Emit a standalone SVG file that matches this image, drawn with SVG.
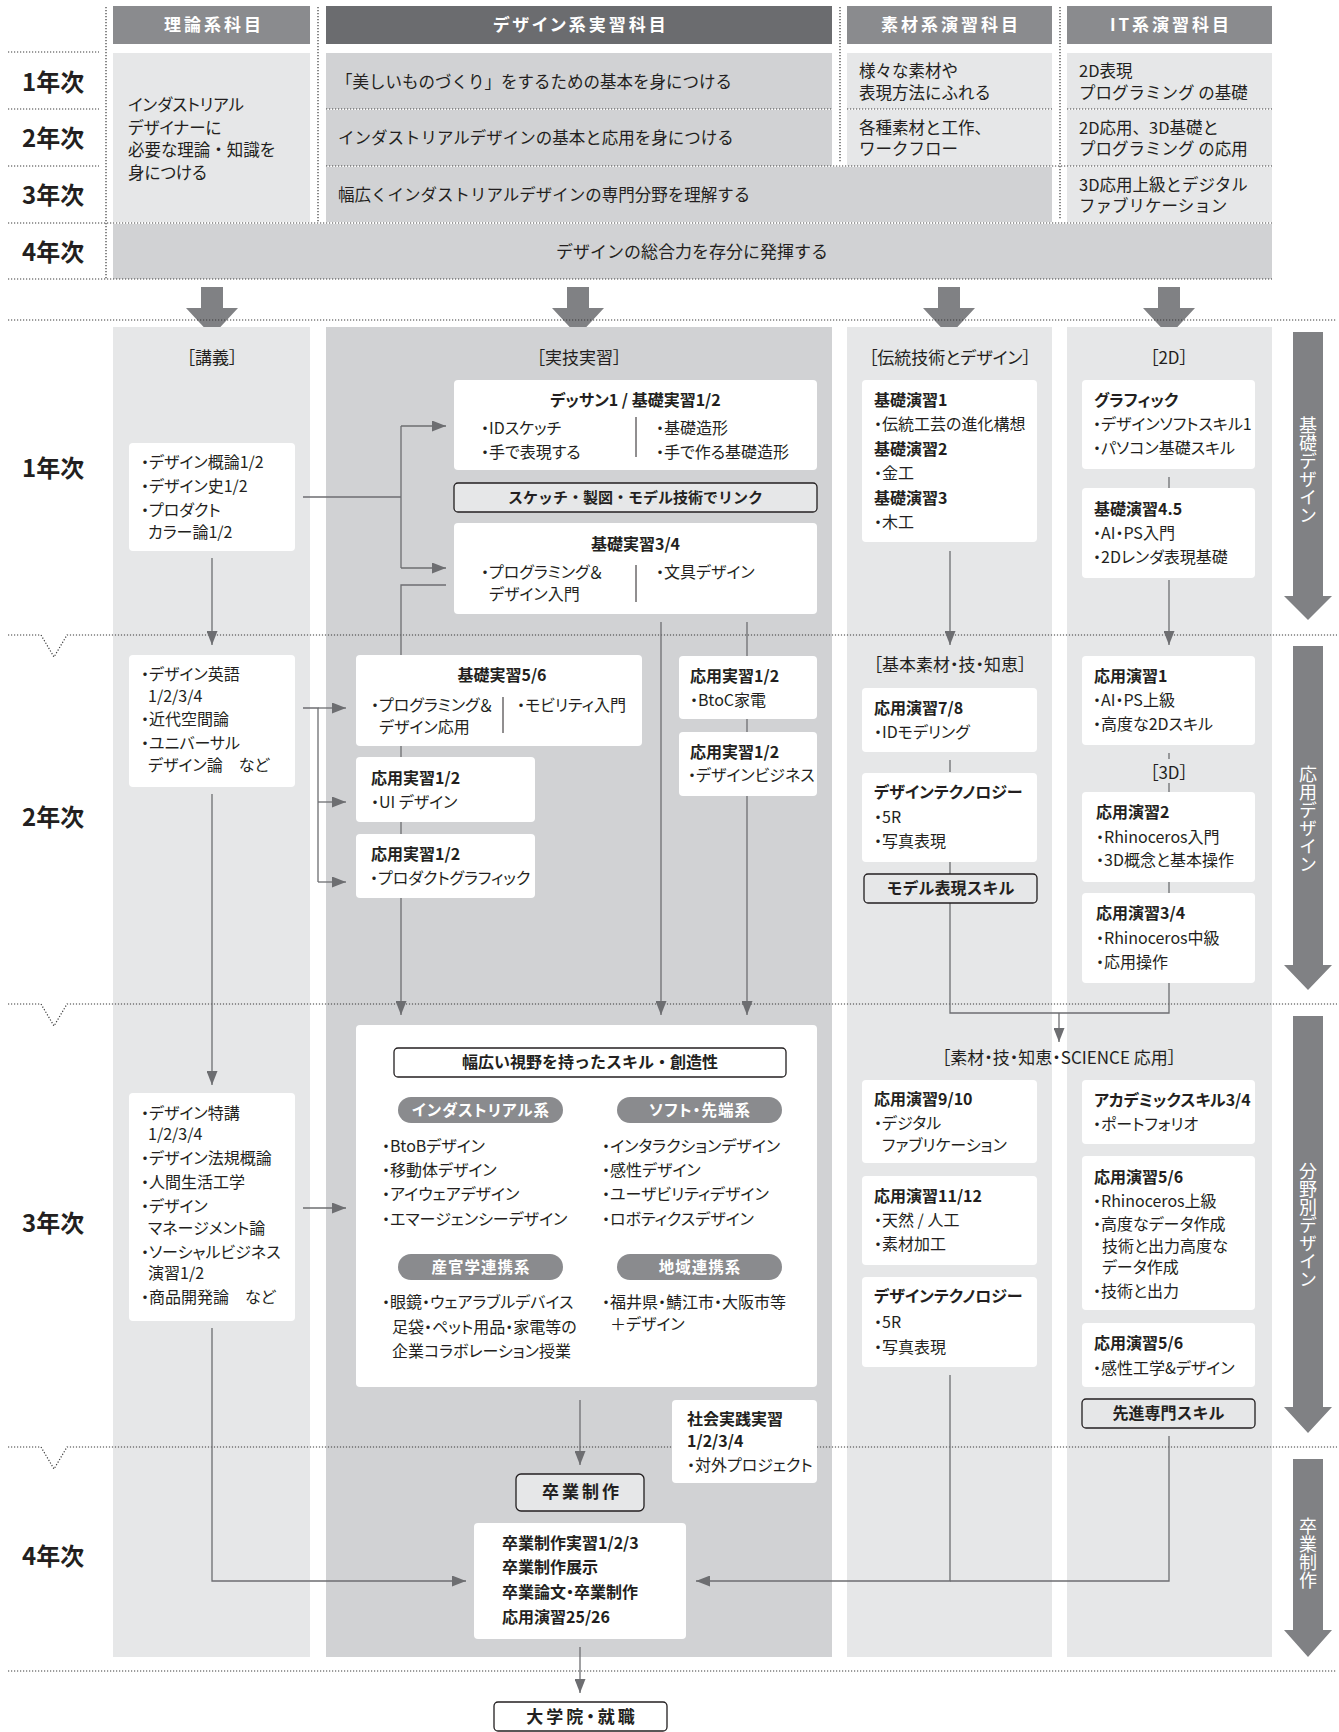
<svg xmlns="http://www.w3.org/2000/svg" width="1339" height="1732" viewBox="0 0 1339 1732">
<style>
.t{font-family:"Noto Sans CJK JP","Noto Sans",sans-serif;font-size:16px;fill:#231f20;font-feature-settings:"palt";}
.np{font-feature-settings:normal;}
.b{font-weight:700;}
.h{font-weight:700;font-size:16px;}
.c{text-anchor:middle;}
.yr{font-size:24px;font-weight:700;font-feature-settings:normal;}
.hd{font-size:17px;font-weight:700;fill:#fff;letter-spacing:3px;}
.tp{font-size:16.5px;font-feature-settings:normal;}
.br{font-size:17px;}
.pl{font-size:15.5px;font-weight:700;fill:#fff;letter-spacing:1px;}
.vt{font-size:18px;fill:#fff;writing-mode:vertical-rl;text-anchor:middle;}
.lt{fill:#e6e7e8;}
.md{fill:#d1d2d4;}
.bx{fill:#fff;}
.kb{fill:#e6e7e8;stroke:#231f20;stroke-width:1.3;}
.wb{fill:#fff;stroke:#231f20;stroke-width:1.3;}
.dot{fill:none;stroke:#3a3a3a;stroke-width:1.2;stroke-dasharray:1.2 1.8;}
.cn{fill:none;stroke:#6d6e71;stroke-width:1.3;}
.dv{fill:none;stroke:#231f20;stroke-width:1;}
.ca{fill:none;stroke:#6d6e71;stroke-width:1.3;marker-end:url(#ah);}
.ar{fill:#808184;}
.pill{fill:#8a8b8e;}
</style>
<defs>
<marker id="ah" viewBox="0 0 14 11" refX="14" refY="5.5" markerWidth="14" markerHeight="11" markerUnits="userSpaceOnUse" orient="auto">
<path d="M0,0 L14,5.5 L0,11 z" fill="#6d6e71"/>
</marker>
</defs>

<!-- ===== TOP TABLE ===== -->
<g id="top-table">
<rect x="113" y="6" width="197" height="38" fill="#8a8b8e"/>
<rect x="326" y="6" width="506" height="38" fill="#6b6c6f"/>
<rect x="847" y="6" width="205" height="38" fill="#8a8b8e"/>
<rect x="1067" y="6" width="205" height="38" fill="#8a8b8e"/>
<text class="t hd c" x="214" y="31">理論系科目</text>
<text class="t hd c" x="581" y="31">デザイン系実習科目</text>
<text class="t hd c" x="951" y="31">素材系演習科目</text>
<text class="t hd c" x="1171" y="31">IT系演習科目</text>

<rect class="lt" x="113" y="53" width="197" height="169"/>
<rect class="md" x="326" y="53" width="506" height="56"/>
<rect class="md" x="326" y="110" width="506" height="56"/>
<rect class="lt" x="847" y="53" width="205" height="56"/>
<rect class="lt" x="847" y="110" width="205" height="56"/>
<rect class="md" x="326" y="167" width="726" height="55"/>
<rect class="lt" x="1067" y="53" width="205" height="56"/>
<rect class="lt" x="1067" y="110" width="205" height="56"/>
<rect class="lt" x="1067" y="167" width="205" height="55"/>
<rect class="md" x="113" y="224" width="1159" height="55"/>

<text class="t yr" x="22" y="91">1年次</text>
<text class="t yr" x="22" y="147">2年次</text>
<text class="t yr" x="22" y="204">3年次</text>
<text class="t yr" x="22" y="261">4年次</text>

<text class="t" style="font-size:16.5px" x="128" y="111">インダストリアル</text>
<text class="t" style="font-size:16.5px" x="128" y="134">デザイナーに</text>
<text class="t" style="font-size:16.5px" x="128" y="156">必要な理論<tspan class="np">・</tspan>知識を</text>
<text class="t" style="font-size:16.5px" x="128" y="179">身につける</text>

<text class="t tp" x="336" y="88">「美しいものづくり」をするための基本を身につける</text>
<text class="t tp" x="338" y="144">インダストリアルデザインの基本と応用を身につける</text>
<text class="t tp" x="338" y="201">幅広くインダストリアルデザインの専門分野を理解する</text>

<text class="t tp" x="859" y="77">様々な素材や</text>
<text class="t tp" x="859" y="99">表現方法にふれる</text>
<text class="t tp" x="859" y="134">各種素材と工作、</text>
<text class="t tp" x="859" y="155">ワークフロー</text>

<text class="t tp" x="1079" y="77">2D表現</text>
<text class="t tp" x="1079" y="99">プログラミング の基礎</text>
<text class="t tp" x="1079" y="134">2D応用、3D基礎と</text>
<text class="t tp" x="1079" y="155">プログラミング の応用</text>
<text class="t tp" x="1079" y="191">3D応用上級とデジタル</text>
<text class="t tp" x="1079" y="212">ファブリケーション</text>

<text class="t tp c" style="font-size:17px" x="692" y="258">デザインの総合力を存分に発揮する</text>

<path class="dot" d="M106,7 V279 M318,7 V222 M840,7 V163 M1060,7 V220"/>
<path class="dot" d="M8,52 H99 M8,109 H99 M326,109 H832 M847,109 H1052 M1067,109 H1272 M8,166 H99 M326,166 H1272 M8,223 H1272 M8,279 H1272"/>

<path class="ar" d="M201,287 H223 V308 H238 L212,336 L186,308 H201 Z"/>
<path class="ar" d="M567,287 H589 V308 H604 L578,336 L552,308 H567 Z"/>
<path class="ar" d="M938,287 H960 V308 H975 L949,336 L923,308 H938 Z"/>
<path class="ar" d="M1158,287 H1180 V308 H1195 L1169,336 L1143,308 H1158 Z"/>
</g>

<!-- ===== LOWER BACKGROUND ===== -->
<g id="lower-columns">
<rect class="lt" x="113" y="327" width="197" height="1330"/>
<rect class="md" x="326" y="327" width="506" height="1330"/>
<rect class="lt" x="847" y="327" width="205" height="1330"/>
<rect class="lt" x="1067" y="327" width="205" height="1330"/>
</g>

<g id="year-lines">
<path class="dot" d="M8,320 H1337"/>
<path class="dot" d="M8,635 H41 L54,657 L67,635 H1337"/>
<path class="dot" d="M8,1004 H41 L54,1026 L67,1004 H1337"/>
<path class="dot" d="M8,1447 H41 L54,1469 L67,1447 H1337"/>
<path class="dot" d="M8,1671 H1337"/>
<text class="t yr" x="22" y="477">1年次</text>
<text class="t yr" x="22" y="826">2年次</text>
<text class="t yr" x="22" y="1232">3年次</text>
<text class="t yr" x="22" y="1565">4年次</text>
</g>

<g id="phase-arrows">
<path class="ar" d="M1293,332 H1323 V596 H1332 L1308,620 L1284,596 H1293 Z"/>
<text class="t vt" x="1308" y="470">基礎デザイン</text>
<path class="ar" d="M1293,646 H1323 V965 H1332 L1308,990 L1284,965 H1293 Z"/>
<text class="t vt" x="1308" y="819">応用デザイン</text>
<path class="ar" d="M1293,1016 H1323 V1407 H1332 L1308,1433 L1284,1407 H1293 Z"/>
<text class="t vt" x="1308" y="1225">分野別デザイン</text>
<path class="ar" d="M1293,1459 H1323 V1630 H1332 L1308,1657 L1284,1630 H1293 Z"/>
<text class="t vt" x="1308" y="1553">卒業制作</text>
</g>

<!-- ===== CONNECTORS ===== -->
<g id="connectors">
<path class="ca" d="M212,558 V645"/>
<path class="ca" d="M212,794 V1085"/>
<path class="ca" d="M212,1328 V1581 H466"/>
<path class="cn" d="M303,497 H401 M401,426 V568"/>
<path class="ca" d="M401,426 H446"/>
<path class="ca" d="M401,568 H446"/>
<path class="ca" d="M446,585 H401 V1015"/>
<path class="cn" d="M303,708 H318 V882"/>
<path class="ca" d="M318,708 H346"/>
<path class="ca" d="M318,802 H346"/>
<path class="ca" d="M318,882 H346"/>
<path class="ca" d="M661,622 V1015"/>
<path class="ca" d="M747,622 V1015"/>
<path class="ca" d="M303,1208 H346"/>
<path class="ca" d="M580,1400 V1465"/>
<path class="ca" d="M580,1647 V1693"/>
<path class="ca" d="M950,551 V645"/>
<path class="cn" d="M950,760 V772 M950,862 V874"/>
<path class="cn" d="M950,903 V1013 H1169 V983"/>
<path class="ca" d="M1059,1013 V1042"/>
<path class="cn" d="M1169,477 V488"/>
<path class="ca" d="M1169,580 V645"/>
<path class="cn" d="M1169,753 V759 M1169,783 V792 M1169,882 V893"/>
<path class="ca" d="M950,1375 V1581 H696"/>
<path class="cn" d="M1169,1436 V1581 H950"/>
</g>

<!-- ===== 講義 ===== -->
<text class="t br c" x="212" y="364">［講義］</text>
<g id="n-lec1">
<rect class="bx" x="129" y="443" width="166" height="108" rx="4"/>
<text class="t" x="141" y="468">・デザイン概論1/2</text>
<text class="t" x="141" y="492">・デザイン史1/2</text>
<text class="t" x="141" y="516">・プロダクト</text>
<text class="t" x="148" y="538">カラー論1/2</text>
</g>
<g id="n-lec2">
<rect class="bx" x="129" y="655" width="166" height="132" rx="4"/>
<text class="t" x="141" y="680">・デザイン英語</text>
<text class="t" x="148" y="701.5">1/2/3/4</text>
<text class="t" x="141" y="725">・近代空間論</text>
<text class="t" x="141" y="749">・ユニバーサル</text>
<text class="t" x="148" y="770.5">デザイン論　など</text>
</g>
<g id="n-lec3">
<rect class="bx" x="129" y="1093" width="166" height="228" rx="4"/>
<text class="t" x="141" y="1118.5">・デザイン特講</text>
<text class="t" x="148" y="1140">1/2/3/4</text>
<text class="t" x="141" y="1163.5">・デザイン法規概論</text>
<text class="t" x="141" y="1187.5">・人間生活工学</text>
<text class="t" x="141" y="1211.5">・デザイン</text>
<text class="t" x="148" y="1233.5">マネージメント論</text>
<text class="t" x="141" y="1257.5">・ソーシャルビジネス</text>
<text class="t" x="148" y="1279">演習1/2</text>
<text class="t" x="141" y="1302.5">・商品開発論　など</text>
</g>

<!-- ===== 実技実習 ===== -->
<text class="t br c" x="579" y="364">［実技実習］</text>
<g id="n-dessin">
<rect class="bx" x="454" y="380" width="363" height="90" rx="4"/>
<text class="t h c" x="635.5" y="405.5">デッサン1 / 基礎実習1/2</text>
<text class="t" x="481" y="433.5">・IDスケッチ</text>
<text class="t" x="481" y="457.5">・手で表現する</text>
<path class="dv" d="M636,417 V457"/>
<text class="t" x="656" y="433.5">・基礎造形</text>
<text class="t" x="656" y="457.5">・手で作る基礎造形</text>
</g>
<g id="n-link">
<rect class="kb" x="454" y="483" width="363" height="29" rx="4"/>
<text class="t b c np" style="font-size:15px" x="635.5" y="503">スケッチ・製図・モデル技術でリンク</text>
</g>
<g id="n-kiso34">
<rect class="bx" x="454" y="523" width="363" height="91" rx="4"/>
<text class="t h c" x="635.5" y="550">基礎実習3/4</text>
<text class="t" x="481" y="577.5">・プログラミング＆</text>
<text class="t" x="489" y="600">デザイン入門</text>
<path class="dv" d="M636,565 V602"/>
<text class="t" x="656" y="577.5">・文具デザイン</text>
</g>
<g id="n-kiso56">
<rect class="bx" x="356" y="655" width="286" height="91" rx="4"/>
<text class="t h c" x="502" y="681">基礎実習5/6</text>
<text class="t" x="371" y="710.5">・プログラミング＆</text>
<text class="t" x="379" y="733">デザイン応用</text>
<path class="dv" d="M503,697 V733"/>
<text class="t" x="517" y="710.5">・モビリティ入門</text>
</g>
<g id="n-oyo-ui">
<rect class="bx" x="356" y="757" width="179" height="65" rx="4"/>
<text class="t h" x="371" y="783.5">応用実習1/2</text>
<text class="t" x="371" y="807.5">・UI デザイン</text>
</g>
<g id="n-oyo-pg">
<rect class="bx" x="356" y="834" width="179" height="64" rx="4"/>
<text class="t h" x="371" y="859.5">応用実習1/2</text>
<text class="t" x="370" y="883.5">・プロダクトグラフィック</text>
</g>
<g id="n-oyo-btoc">
<rect class="bx" x="679" y="656" width="138" height="63" rx="4"/>
<text class="t h" x="690" y="681.5">応用実習1/2</text>
<text class="t" x="690" y="705.5">・BtoC家電</text>
</g>
<g id="n-oyo-biz">
<rect class="bx" x="679" y="732" width="138" height="64" rx="4"/>
<text class="t h" x="690" y="757.5">応用実習1/2</text>
<text class="t" x="688" y="780.5">・デザインビジネス</text>
</g>
<g id="n-third">
<rect class="bx" x="356" y="1025" width="461" height="362" rx="4"/>
<rect class="wb" x="394" y="1048" width="392" height="29" rx="4"/>
<text class="t h c np" x="590" y="1068">幅広い視野を持ったスキル・創造性</text>
<rect class="pill" x="398" y="1097" width="165" height="26" rx="13"/>
<text class="t pl c" x="481" y="1115.5">インダストリアル系</text>
<rect class="pill" x="617" y="1097" width="165" height="26" rx="13"/>
<text class="t pl c" x="700" y="1115.5">ソフト・先端系</text>
<text class="t" x="382" y="1151.5">・BtoBデザイン</text>
<text class="t" x="382" y="1176">・移動体デザイン</text>
<text class="t" x="382" y="1200">・アイウェアデザイン</text>
<text class="t" x="382" y="1225">・エマージェンシーデザイン</text>
<text class="t" x="602" y="1151.5">・インタラクションデザイン</text>
<text class="t" x="602" y="1176">・感性デザイン</text>
<text class="t" x="602" y="1200">・ユーザビリティデザイン</text>
<text class="t" x="602" y="1225">・ロボティクスデザイン</text>
<rect class="pill" x="398" y="1254" width="165" height="26" rx="13"/>
<text class="t pl c" x="481" y="1272.5">産官学連携系</text>
<rect class="pill" x="617" y="1254" width="165" height="26" rx="13"/>
<text class="t pl c" x="700" y="1272.5">地域連携系</text>
<text class="t" x="382" y="1308">・眼鏡・ウェアラブルデバイス</text>
<text class="t" x="392" y="1332.5">足袋・ペット用品・家電等の</text>
<text class="t" x="392" y="1357">企業コラボレーション授業</text>
<text class="t" x="602" y="1308">・福井県・鯖江市・大阪市等</text>
<text class="t" x="610" y="1330">＋デザイン</text>
</g>
<g id="n-shakai">
<rect class="bx" x="672" y="1400" width="145" height="83" rx="4"/>
<text class="t h" x="687" y="1425">社会実践実習</text>
<text class="t h" x="687" y="1446.5">1/2/3/4</text>
<text class="t" x="687" y="1470.5">・対外プロジェクト</text>
</g>
<g id="n-sotsu">
<rect class="kb" x="516" y="1474" width="128" height="37" rx="5"/>
<text class="t b c" style="font-size:17px;letter-spacing:3px" x="582" y="1498">卒業制作</text>
</g>
<g id="n-sotsu-detail">
<rect class="bx" x="474" y="1523" width="212" height="116" rx="4"/>
<text class="t h" x="502" y="1548.5">卒業制作実習1/2/3</text>
<text class="t h" x="502" y="1572.5">卒業制作展示</text>
<text class="t h" x="502" y="1597.5">卒業論文・卒業制作</text>
<text class="t h" x="502" y="1622.5">応用演習25/26</text>
</g>
<g id="n-career">
<rect class="wb" x="494" y="1702" width="173" height="29" rx="4"/>
<text class="t b c" style="font-size:17px;letter-spacing:3px" x="582" y="1723">大学院・就職</text>
</g>

<!-- ===== 素材 ===== -->
<text class="t br c" x="950" y="364">［伝統技術とデザイン］</text>
<g id="n-kiso-en">
<rect class="bx" x="862" y="380" width="175" height="162" rx="4"/>
<text class="t h" x="874" y="405.5">基礎演習1</text>
<text class="t" x="874" y="429.5">・伝統工芸の進化構想</text>
<text class="t h" x="874" y="454.5">基礎演習2</text>
<text class="t" x="874" y="478.5">・金工</text>
<text class="t h" x="874" y="503.5">基礎演習3</text>
<text class="t" x="874" y="527.5">・木工</text>
</g>
<text class="t br c" x="950" y="671">［基本素材・技・知恵］</text>
<g id="n-en78">
<rect class="bx" x="862" y="688" width="175" height="64" rx="4"/>
<text class="t h" x="874" y="713.5">応用演習7/8</text>
<text class="t" x="874" y="737.5">・IDモデリング</text>
</g>
<g id="n-tech2">
<rect class="bx" x="862" y="773" width="175" height="89" rx="4"/>
<text class="t h" x="874" y="797.5">デザインテクノロジー</text>
<text class="t" x="874" y="822.5">・5R</text>
<text class="t" x="874" y="846.5">・写真表現</text>
</g>
<g id="n-model">
<rect class="kb" x="864" y="874" width="173" height="29" rx="4"/>
<text class="t h c np" x="950.5" y="894">モデル表現スキル</text>
</g>
<text class="t br c" x="1059" y="1064">［素材・技・知恵・SCIENCE 応用］</text>
<g id="n-en910">
<rect class="bx" x="862" y="1080" width="175" height="83" rx="4"/>
<text class="t h" x="874" y="1105">応用演習9/10</text>
<text class="t" x="874" y="1129">・デジタル</text>
<text class="t" x="882" y="1151">ファブリケーション</text>
</g>
<g id="n-en1112">
<rect class="bx" x="862" y="1176" width="175" height="89" rx="4"/>
<text class="t h" x="874" y="1201.5">応用演習11/12</text>
<text class="t" x="874" y="1225.5">・天然 / 人工</text>
<text class="t" x="874" y="1249.5">・素材加工</text>
</g>
<g id="n-tech3">
<rect class="bx" x="862" y="1277" width="175" height="90" rx="4"/>
<text class="t h" x="874" y="1301.5">デザインテクノロジー</text>
<text class="t" x="874" y="1327.5">・5R</text>
<text class="t" x="874" y="1352.5">・写真表現</text>
</g>

<!-- ===== IT ===== -->
<text class="t br c" x="1169" y="364">［2D］</text>
<g id="n-graphic">
<rect class="bx" x="1082" y="380" width="173" height="89" rx="4"/>
<text class="t h" x="1094" y="405.5">グラフィック</text>
<text class="t" x="1093" y="429.5">・デザインソフトスキル1</text>
<text class="t" x="1093" y="453.5">・パソコン基礎スキル</text>
</g>
<g id="n-kiso45">
<rect class="bx" x="1082" y="488" width="173" height="90" rx="4"/>
<text class="t h" x="1094" y="514.5">基礎演習4.5</text>
<text class="t" x="1093" y="538.5">・AI・PS入門</text>
<text class="t" x="1093" y="562.5">・2Dレンダ表現基礎</text>
</g>
<g id="n-en1">
<rect class="bx" x="1082" y="656" width="173" height="89" rx="4"/>
<text class="t h" x="1094" y="681.5">応用演習1</text>
<text class="t" x="1093" y="705.5">・AI・PS上級</text>
<text class="t" x="1093" y="729.5">・高度な2Dスキル</text>
</g>
<text class="t br c" x="1169" y="779">［3D］</text>
<g id="n-en2">
<rect class="bx" x="1082" y="792" width="173" height="90" rx="4"/>
<text class="t h" x="1096" y="817.5">応用演習2</text>
<text class="t" x="1096" y="842.5">・Rhinoceros入門</text>
<text class="t" x="1096" y="866">・3D概念と基本操作</text>
</g>
<g id="n-en34">
<rect class="bx" x="1082" y="893" width="173" height="90" rx="4"/>
<text class="t h" x="1096" y="918.5">応用演習3/4</text>
<text class="t" x="1096" y="943.5">・Rhinoceros中級</text>
<text class="t" x="1096" y="967.5">・応用操作</text>
</g>
<g id="n-academic">
<rect class="bx" x="1082" y="1080" width="173" height="64" rx="4"/>
<text class="t h" x="1094" y="1105.5">アカデミックスキル3/4</text>
<text class="t" x="1093" y="1129.5">・ポートフォリオ</text>
</g>
<g id="n-en56a">
<rect class="bx" x="1082" y="1156" width="173" height="154" rx="4"/>
<text class="t h" x="1094" y="1182.5">応用演習5/6</text>
<text class="t" x="1093" y="1206.5">・Rhinoceros上級</text>
<text class="t" x="1093" y="1230">・高度なデータ作成</text>
<text class="t" x="1102" y="1251.5">技術と出力高度な</text>
<text class="t" x="1102" y="1273">データ作成</text>
<text class="t" x="1093" y="1296.5">・技術と出力</text>
</g>
<g id="n-en56b">
<rect class="bx" x="1082" y="1323" width="173" height="64" rx="4"/>
<text class="t h" x="1094" y="1348.5">応用演習5/6</text>
<text class="t" x="1093" y="1373.5">・感性工学&amp;デザイン</text>
</g>
<g id="n-senshin">
<rect class="kb" x="1082" y="1399" width="173" height="29" rx="4"/>
<text class="t h c np" x="1168.5" y="1419">先進専門スキル</text>
</g>
</svg>
